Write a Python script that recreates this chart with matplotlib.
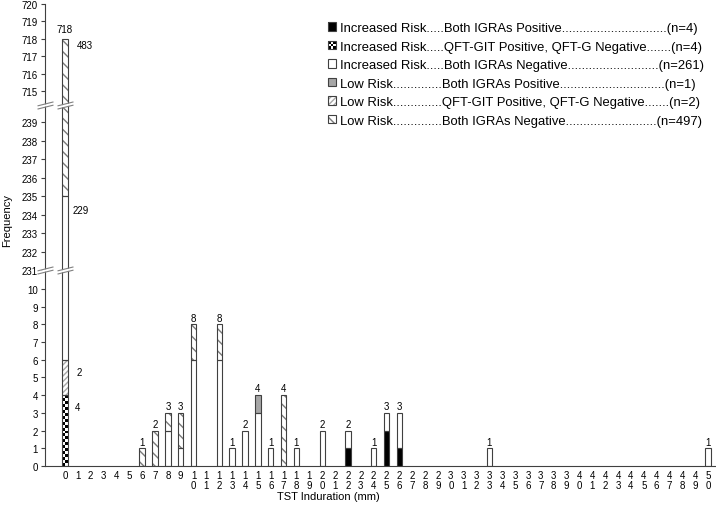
import matplotlib
matplotlib.use("Agg")
import matplotlib.pyplot as plt
import numpy as np
from matplotlib.patches import Rectangle
from matplotlib.path import Path
from matplotlib.lines import Line2D
from matplotlib.legend_handler import HandlerBase

plt.rcParams['font.family'] = ['Liberation Sans', 'DejaVu Sans']
plt.rcParams['hatch.linewidth'] = 1.0

# TST induration categories (mm)
tst_mm = list(range(51))

# counts per category, one list per group (index = mm)
ir_both_pos = [0, 0, 0, 0, 0, 0, 0, 0, 0, 0,
               0, 0, 0, 0, 0, 0, 0, 0, 0, 0,
               0, 0, 1, 0, 0, 2, 1, 0, 0, 0,
               0, 0, 0, 0, 0, 0, 0, 0, 0, 0,
               0, 0, 0, 0, 0, 0, 0, 0, 0, 0,
               0]
ir_git_only = [4, 0, 0, 0, 0, 0, 0, 0, 0, 0,
               0, 0, 0, 0, 0, 0, 0, 0, 0, 0,
               0, 0, 0, 0, 0, 0, 0, 0, 0, 0,
               0, 0, 0, 0, 0, 0, 0, 0, 0, 0,
               0, 0, 0, 0, 0, 0, 0, 0, 0, 0,
               0]
lr_git_only = [2, 0, 0, 0, 0, 0, 0, 0, 0, 0,
               0, 0, 0, 0, 0, 0, 0, 0, 0, 0,
               0, 0, 0, 0, 0, 0, 0, 0, 0, 0,
               0, 0, 0, 0, 0, 0, 0, 0, 0, 0,
               0, 0, 0, 0, 0, 0, 0, 0, 0, 0,
               0]
ir_both_neg = [229, 0, 0, 0, 0, 0, 0, 0, 2, 1,
               6, 0, 6, 1, 2, 3, 1, 0, 1, 0,
               2, 0, 1, 0, 1, 1, 2, 0, 0, 0,
               0, 0, 0, 1, 0, 0, 0, 0, 0, 0,
               0, 0, 0, 0, 0, 0, 0, 0, 0, 0,
               1]
lr_both_pos = [0, 0, 0, 0, 0, 0, 0, 0, 0, 0,
               0, 0, 0, 0, 0, 1, 0, 0, 0, 0,
               0, 0, 0, 0, 0, 0, 0, 0, 0, 0,
               0, 0, 0, 0, 0, 0, 0, 0, 0, 0,
               0, 0, 0, 0, 0, 0, 0, 0, 0, 0,
               0]
lr_both_neg = [483, 0, 0, 0, 0, 0, 1, 2, 1, 2,
               2, 0, 2, 0, 0, 0, 0, 4, 0, 0,
               0, 0, 0, 0, 0, 0, 0, 0, 0, 0,
               0, 0, 0, 0, 0, 0, 0, 0, 0, 0,
               0, 0, 0, 0, 0, 0, 0, 0, 0, 0,
               0]

legend_labels = [
    "Increased Risk.....Both IGRAs Positive..............................(n=4)",
    "Increased Risk.....QFT-GIT Positive, QFT-G Negative.......(n=4)",
    "Increased Risk.....Both IGRAs Negative..........................(n=261)",
    "Low Risk..............Both IGRAs Positive..............................(n=1)",
    "Low Risk..............QFT-GIT Positive, QFT-G Negative.......(n=2)",
    "Low Risk..............Both IGRAs Negative..........................(n=497)",
]

EDGE = '#404040'
BAR_W = 0.42

st_black = dict(face='black', hatch=None, hcol=None, checker=False)
st_check = dict(face='white', hatch=None, hcol=None, checker=True)
st_white = dict(face='white', hatch=None, hcol=None, checker=False)
st_gray = dict(face='#a6a6a6', hatch=None, hcol=None, checker=False)
st_light = dict(face='white', hatch='//////', hcol='#a8a8a8', checker=False)
st_dense = dict(face='white', hatch='\\\\\\', hcol='#7a7a7a', checker=False)

# stacking order, bottom to top
stack = [(ir_both_pos, st_black), (ir_git_only, st_check), (lr_git_only, st_light),
         (ir_both_neg, st_white), (lr_both_pos, st_gray), (lr_both_neg, st_dense)]
legend_styles = [st_black, st_check, st_white, st_gray, st_light, st_dense]


class Swatch:
    def __init__(self, style):
        self.style = style


class HandlerSwatch(HandlerBase):
    def create_artists(self, legend, orig_handle, xdescent, ydescent,
                       width, height, fontsize, trans):
        st = orig_handle.style
        x0, y0 = -xdescent, -ydescent
        arts = [Rectangle((x0, y0), width, height, facecolor=st['face'],
                          edgecolor=st['hcol'] or 'none', hatch=st['hatch'],
                          lw=0, transform=trans)]
        if st['checker']:
            n = 3
            for i in range(n):
                for j in range(n):
                    if (i + j) % 2 == 0:
                        arts.append(Rectangle((x0 + j * width / n, y0 + i * height / n),
                                              width / n, height / n, facecolor='black',
                                              lw=0, transform=trans))
        arts.append(Rectangle((x0, y0), width, height, fill=False,
                              edgecolor=EDGE, lw=0.8, transform=trans))
        return arts


def draw_bars(ax):
    x = np.array(tst_mm)
    bottom = np.zeros(len(tst_mm))
    for vals, st in stack:
        vals = np.array(vals, dtype=float)
        m = vals > 0
        ax.bar(x[m], vals[m], BAR_W, bottom=bottom[m], color=st['face'],
               edgecolor=st['hcol'] or 'none', hatch=st['hatch'], linewidth=0, zorder=2)
        if st['checker']:
            for xi, v, b in zip(x[m], vals[m], bottom[m]):
                rows = int(v * 6)
                board = np.indices((rows, 2)).sum(axis=0) % 2
                ax.imshow(board, extent=(xi - BAR_W / 2, xi + BAR_W / 2, b, b + v),
                          cmap='gray', aspect='auto', interpolation='nearest',
                          origin='lower', zorder=2.5)
        ax.bar(x[m], vals[m], BAR_W, bottom=bottom[m], fill=False,
               edgecolor=EDGE, linewidth=0.8, zorder=3)
        bottom += vals
    return bottom


fig = plt.figure(figsize=(7.16, 5.06), dpi=100)
L, W = 45 / 716, 670 / 716
ax_top = fig.add_axes([L, 1 - 106 / 506, W, 101 / 506])
ax_mid = fig.add_axes([L, 1 - 271 / 506, W, 165 / 506], sharex=ax_top)
ax_bot = fig.add_axes([L, 1 - 467 / 506, W, 196 / 506], sharex=ax_top)

for ax in (ax_top, ax_mid, ax_bot):
    totals = draw_bars(ax)
    ax.set_facecolor('none')
    for s in ('top', 'right'):
        ax.spines[s].set_visible(False)
    ax.spines['left'].set_color(EDGE)
    ax.spines['left'].set_linewidth(0.8)
    ax.tick_params(axis='y', direction='out', length=3, width=0.8, color=EDGE,
                   labelsize=7, pad=2)

for ax in (ax_top, ax_mid):
    ax.spines['bottom'].set_visible(False)
    ax.tick_params(axis='x', length=0, labelbottom=False)

ax_bot.spines['bottom'].set_color(EDGE)
ax_bot.spines['bottom'].set_linewidth(0.8)
ax_bot.tick_params(axis='x', length=0, labelsize=7, pad=3)

ax_bot.set_xlim(-1.555, 50.54)
ax_bot.set_ylim(0, 11.07)
ax_mid.set_ylim(231, 239.92)
ax_top.set_ylim(714.2, 720)
ax_bot.set_yticks(range(0, 11))
ax_mid.set_yticks(range(231, 240))
ax_top.set_yticks(range(715, 721))
ax_bot.set_xticks(tst_mm)
ax_bot.set_xticklabels(['\n'.join(str(v)) for v in tst_mm], linespacing=1.0)

# totals above bars
for i, t in zip(tst_mm, totals):
    if t <= 0:
        continue
    if i == 0:
        ax_top.text(i, t + 0.25, f"{int(t)}", ha='center', va='bottom', fontsize=7)
    else:
        ax_bot.text(i, t + 0.1, f"{int(t)}", ha='center', va='bottom', fontsize=7)

# segment counts beside the first bar
ax_top.text(0.93, 717.64, f"{lr_both_neg[0]}", ha='left', va='center', fontsize=7)
ax_mid.text(0.62, 234.26, f"{ir_both_neg[0]}", ha='left', va='center', fontsize=7)
ax_bot.text(0.93, 5.33, f"{lr_git_only[0]}", ha='left', va='center', fontsize=7)
ax_bot.text(0.78, 3.35, f"{ir_git_only[0]}", ha='left', va='center', fontsize=7)

# axis break marks
lines_path = Path([(-1, -0.45), (1, 0.05), (-1, -0.05), (1, 0.45)],
                  [Path.MOVETO, Path.LINETO, Path.MOVETO, Path.LINETO])
gap_path = Path([(-1, -0.4), (1, 0.1), (1, 0.4), (-1, -0.1), (-1, -0.4)],
                [Path.MOVETO, Path.LINETO, Path.LINETO, Path.LINETO, Path.CLOSEPOLY])
for ax in (ax_mid, ax_top):
    for trans in (ax.transAxes, ax.get_xaxis_transform()):
        fig.add_artist(Line2D([0], [0], transform=trans, marker=gap_path, markersize=11.5,
                              markerfacecolor='white', markeredgewidth=0, linestyle='none'))
        fig.add_artist(Line2D([0], [0], transform=trans, marker=lines_path, markersize=11.5,
                              markerfacecolor='none', markeredgecolor='#808080',
                              markeredgewidth=0.8, linestyle='none'))

fig.text(7 / 716, 1 - 221 / 506, "Frequency", rotation=90, ha='center', va='center', fontsize=8)
fig.text(328 / 716, 1 - 497 / 506, "TST Induration (mm)", ha='center', va='center', fontsize=8)

leg = ax_bot.legend([Swatch(s) for s in legend_styles], legend_labels,
                    handler_map={Swatch: HandlerSwatch()},
                    loc='upper left', bbox_to_anchor=(328 / 716, 1 - 23 / 506),
                    bbox_transform=fig.transFigure, frameon=False, fontsize=9.4,
                    borderpad=0, borderaxespad=0, handlelength=0.6, handleheight=0.6,
                    handletextpad=0.3, labelspacing=0.5)

fig.savefig("out.png", dpi=100, facecolor='white')
